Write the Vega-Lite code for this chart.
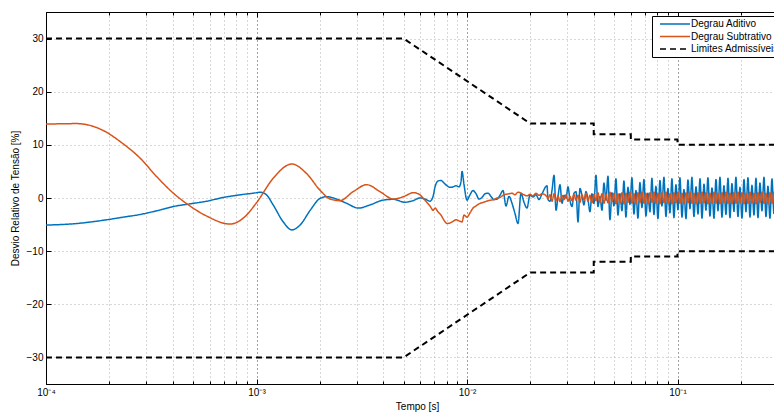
{
"$schema": "https://vega.github.io/schema/vega-lite/v6.json",
"width": 730, "height": 372,
"autosize": {"type": "none"},
"padding": {"left": 46, "top": 12, "right": 0, "bottom": 28},
"config": {
 "font": "Liberation Sans",
 "view": {"stroke": "black", "strokeWidth": 1},
 "axis": {"domainColor": "black", "tickColor": "black", "labelColor": "black", "titleColor": "black", "labelFontSize": 10, "titleFontSize": 10, "titleFontWeight": "normal", "gridDash": [1, 3], "gridColor": "#aaa", "gridOpacity": 1},
 "legend": {"orient": "none", "legendX": 606, "legendY": 4, "fillColor": "white", "strokeColor": "black", "padding": 3, "symbolType": "M0,0H10", "symbolSize": 36, "symbolStrokeWidth": 1.6, "labelFontSize": 10, "labelColor": "black", "labelOffset": 26, "rowPadding": 2.5}
},
"datasets": {
 "aditivo": [
  {"s":"Degrau Aditivo","t":0.0001,"v":-5.1},{"s":"Degrau Aditivo","t":0.00014,"v":-4.8},{"s":"Degrau Aditivo","t":0.000194,"v":-4.1},{"s":"Degrau Aditivo","t":0.000233,"v":-3.6},{"s":"Degrau Aditivo","t":0.00028,"v":-3.1},{"s":"Degrau Aditivo","t":0.000336,"v":-2.4},{"s":"Degrau Aditivo","t":0.000403,"v":-1.6},{"s":"Degrau Aditivo","t":0.000483,"v":-1.1},{"s":"Degrau Aditivo","t":0.00058,"v":-0.6},{"s":"Degrau Aditivo","t":0.000695,"v":0.1},{"s":"Degrau Aditivo","t":0.000836,"v":0.6},{"s":"Degrau Aditivo","t":0.001,"v":1.0},{"s":"Degrau Aditivo","t":0.00104,"v":1.1},{"s":"Degrau Aditivo","t":0.001115,"v":0.6},{"s":"Degrau Aditivo","t":0.0012,"v":-1.3},{"s":"Degrau Aditivo","t":0.00134,"v":-4.5},{"s":"Degrau Aditivo","t":0.00147,"v":-6.0},{"s":"Degrau Aditivo","t":0.00161,"v":-5.1},{"s":"Degrau Aditivo","t":0.0018,"v":-2.3},{"s":"Degrau Aditivo","t":0.002,"v":-0.1},{"s":"Degrau Aditivo","t":0.002156,"v":0.25},{"s":"Degrau Aditivo","t":0.0024,"v":-0.2},{"s":"Degrau Aditivo","t":0.00268,"v":-1.0},{"s":"Degrau Aditivo","t":0.00305,"v":-1.9},{"s":"Degrau Aditivo","t":0.00346,"v":-1.3},{"s":"Degrau Aditivo","t":0.004,"v":-0.4},{"s":"Degrau Aditivo","t":0.00447,"v":-0.25},{"s":"Degrau Aditivo","t":0.00507,"v":-0.8},{"s":"Degrau Aditivo","t":0.00554,"v":-0.5},{"s":"Degrau Aditivo","t":0.00598,"v":0.0},{"s":"Degrau Aditivo","t":0.00632,"v":-0.2},{"s":"Degrau Aditivo","t":0.00667,"v":-0.6},{"s":"Degrau Aditivo","t":0.0069,"v":0.3},{"s":"Degrau Aditivo","t":0.00705,"v":2.1},{"s":"Degrau Aditivo","t":0.00728,"v":3.2},{"s":"Degrau Aditivo","t":0.00752,"v":3.3},{"s":"Degrau Aditivo","t":0.00778,"v":2.8},{"s":"Degrau Aditivo","t":0.00804,"v":2.3},{"s":"Degrau Aditivo","t":0.0083,"v":2.0},{"s":"Degrau Aditivo","t":0.00858,"v":2.1},{"s":"Degrau Aditivo","t":0.00887,"v":2.3},{"s":"Degrau Aditivo","t":0.00916,"v":2.1},{"s":"Degrau Aditivo","t":0.00936,"v":3.0},{"s":"Degrau Aditivo","t":0.00947,"v":5.0},{"s":"Degrau Aditivo","t":0.00968,"v":2.5},{"s":"Degrau Aditivo","t":0.01,"v":-0.4},{"s":"Degrau Aditivo","t":0.01033,"v":0.6},{"s":"Degrau Aditivo","t":0.01068,"v":1.4},{"s":"Degrau Aditivo","t":0.01104,"v":0.8},{"s":"Degrau Aditivo","t":0.0114,"v":-0.2},{"s":"Degrau Aditivo","t":0.01178,"v":0.1},{"s":"Degrau Aditivo","t":0.01218,"v":0.8},{"s":"Degrau Aditivo","t":0.01258,"v":0.9},{"s":"Degrau Aditivo","t":0.013,"v":0.3},{"s":"Degrau Aditivo","t":0.01343,"v":-0.3},{"s":"Degrau Aditivo","t":0.01388,"v":-0.2},{"s":"Degrau Aditivo","t":0.01434,"v":0.5},{"s":"Degrau Aditivo","t":0.01483,"v":1.4},{"s":"Degrau Aditivo","t":0.01532,"v":-1.5},{"s":"Degrau Aditivo","t":0.01583,"v":0.3},{"s":"Degrau Aditivo","t":0.01636,"v":-1.0},{"s":"Degrau Aditivo","t":0.0169,"v":-2.9},{"s":"Degrau Aditivo","t":0.01747,"v":-4.8},{"s":"Degrau Aditivo","t":0.01805,"v":0.9},{"s":"Degrau Aditivo","t":0.01865,"v":-0.8},{"s":"Degrau Aditivo","t":0.01928,"v":-1.9},{"s":"Degrau Aditivo","t":0.01992,"v":0.6},{"s":"Degrau Aditivo","t":0.02058,"v":0.2},{"s":"Degrau Aditivo","t":0.02127,"v":0.6},{"s":"Degrau Aditivo","t":0.02198,"v":-0.3},{"s":"Degrau Aditivo","t":0.02272,"v":0.8},{"s":"Degrau Aditivo","t":0.02399,"v":2.3},
  {"s":"Degrau Aditivo","t":0.02426,"v":-0.3},{"s":"Degrau Aditivo","t":0.0248,"v":-0.6},{"s":"Degrau Aditivo","t":0.02535,"v":1.5},{"s":"Degrau Aditivo","t":0.02591,"v":4.3},{"s":"Degrau Aditivo","t":0.02648,"v":-2.3},{"s":"Degrau Aditivo","t":0.02706,"v":0.3},{"s":"Degrau Aditivo","t":0.02766,"v":2.5},{"s":"Degrau Aditivo","t":0.02827,"v":-1.0},{"s":"Degrau Aditivo","t":0.0289,"v":0.5},{"s":"Degrau Aditivo","t":0.02954,"v":0.0},{"s":"Degrau Aditivo","t":0.03019,"v":2.1},{"s":"Degrau Aditivo","t":0.03085,"v":-0.5},{"s":"Degrau Aditivo","t":0.03153,"v":-1.6},{"s":"Degrau Aditivo","t":0.03223,"v":0.9},{"s":"Degrau Aditivo","t":0.03294,"v":1.2},{"s":"Degrau Aditivo","t":0.03367,"v":-4.5},{"s":"Degrau Aditivo","t":0.03441,"v":1.8},{"s":"Degrau Aditivo","t":0.03517,"v":0.5},{"s":"Degrau Aditivo","t":0.03595,"v":-1.3},{"s":"Degrau Aditivo","t":0.03674,"v":1.2},{"s":"Degrau Aditivo","t":0.03755,"v":-0.2},{"s":"Degrau Aditivo","t":0.03838,"v":-2.6},{"s":"Degrau Aditivo","t":0.03923,"v":0.8},{"s":"Degrau Aditivo","t":0.0401,"v":-1.0},{"s":"Degrau Aditivo","t":0.04098,"v":4.3},{"s":"Degrau Aditivo","t":0.04189,"v":-1.6},{"s":"Degrau Aditivo","t":0.04281,"v":0.3},{"s":"Degrau Aditivo","t":0.04376,"v":-2.3},{"s":"Degrau Aditivo","t":0.04473,"v":2.8},{"s":"Degrau Aditivo","t":0.04572,"v":-0.4},{"s":"Degrau Aditivo","t":0.04673,"v":4.1},{"s":"Degrau Aditivo","t":0.04776,"v":-4.1},{"s":"Degrau Aditivo","t":0.04882,"v":1.0},{"s":"Degrau Aditivo","t":0.0499,"v":-1.5},{"s":"Degrau Aditivo","t":0.051,"v":3.6},{"s":"Degrau Aditivo","t":0.05213,"v":-3.2},{"s":"Degrau Aditivo","t":0.05328,"v":0.8},{"s":"Degrau Aditivo","t":0.05446,"v":-2.4},{"s":"Degrau Aditivo","t":0.05566,"v":3.2},{"s":"Degrau Aditivo","t":0.05689,"v":-3.6},{"s":"Degrau Aditivo","t":0.05815,"v":2.0},{"s":"Degrau Aditivo","t":0.05943,"v":-1.2},{"s":"Degrau Aditivo","t":0.06075,"v":3.8},{"s":"Degrau Aditivo","t":0.06209,"v":-3.0},{"s":"Degrau Aditivo","t":0.06346,"v":1.4},{"s":"Degrau Aditivo","t":0.06487,"v":-3.8},{"s":"Degrau Aditivo","t":0.0663,"v":2.9},{"s":"Degrau Aditivo","t":0.06777,"v":-1.8},{"s":"Degrau Aditivo","t":0.06927,"v":3.5},{"s":"Degrau Aditivo","t":0.0708,"v":-3.4},{"s":"Degrau Aditivo","t":0.07237,"v":0.9},{"s":"Degrau Aditivo","t":0.07397,"v":-2.6},{"s":"Degrau Aditivo","t":0.0756,"v":3.7},{"s":"Degrau Aditivo","t":0.07727,"v":-3.1},{"s":"Degrau Aditivo","t":0.07898,"v":2.2},{"s":"Degrau Aditivo","t":0.08073,"v":-3.9},{"s":"Degrau Aditivo","t":0.08252,"v":3.3},{"s":"Degrau Aditivo","t":0.08434,"v":-1.5},{"s":"Degrau Aditivo","t":0.08621,"v":3.9},{"s":"Degrau Aditivo","t":0.08812,"v":-3.5},{"s":"Degrau Aditivo","t":0.09006,"v":1.8},{"s":"Degrau Aditivo","t":0.09206,"v":-2.8},{"s":"Degrau Aditivo","t":0.09409,"v":3.6},{"s":"Degrau Aditivo","t":0.09617,"v":-3.7},{"s":"Degrau Aditivo","t":0.0983,"v":2.5},{"s":"Degrau Aditivo","t":0.1005,"v":-2.2},{"s":"Degrau Aditivo","t":0.1027,"v":3.8},{"s":"Degrau Aditivo","t":0.105,"v":-3.6},{"s":"Degrau Aditivo","t":0.1073,"v":1.6},{"s":"Degrau Aditivo","t":0.1097,"v":-3.9},{"s":"Degrau Aditivo","t":0.1121,"v":3.4},{"s":"Degrau Aditivo","t":0.1146,"v":-2.0},{"s":"Degrau Aditivo","t":0.1171,"v":3.9},{"s":"Degrau Aditivo","t":0.1197,"v":-3.5},{"s":"Degrau Aditivo","t":0.1224,"v":2.1},{"s":"Degrau Aditivo","t":0.1251,"v":-3.0},{"s":"Degrau Aditivo","t":0.1279,"v":3.6},{"s":"Degrau Aditivo","t":0.1307,"v":-3.8},{"s":"Degrau Aditivo","t":0.1336,"v":2.6},{"s":"Degrau Aditivo","t":0.1365,"v":-2.3},{"s":"Degrau Aditivo","t":0.1395,"v":3.8},{"s":"Degrau Aditivo","t":0.1426,"v":-3.4},{"s":"Degrau Aditivo","t":0.1458,"v":1.9},{"s":"Degrau Aditivo","t":0.149,"v":-3.8},{"s":"Degrau Aditivo","t":0.1523,"v":3.5},{"s":"Degrau Aditivo","t":0.1557,"v":-2.4},{"s":"Degrau Aditivo","t":0.1591,"v":3.9},{"s":"Degrau Aditivo","t":0.1626,"v":-3.6},{"s":"Degrau Aditivo","t":0.1662,"v":2.3},{"s":"Degrau Aditivo","t":0.1699,"v":-3.1},{"s":"Degrau Aditivo","t":0.1737,"v":3.7},{"s":"Degrau Aditivo","t":0.1775,"v":-3.7},{"s":"Degrau Aditivo","t":0.1814,"v":2.7},{"s":"Degrau Aditivo","t":0.1854,"v":-2.5},{"s":"Degrau Aditivo","t":0.1895,"v":3.9},{"s":"Degrau Aditivo","t":0.1937,"v":-3.5},{"s":"Degrau Aditivo","t":0.198,"v":2.0},{"s":"Degrau Aditivo","t":0.2024,"v":-3.8},{"s":"Degrau Aditivo","t":0.2069,"v":3.5},{"s":"Degrau Aditivo","t":0.2115,"v":-2.6},{"s":"Degrau Aditivo","t":0.2161,"v":3.8},{"s":"Degrau Aditivo","t":0.2209,"v":-3.6},{"s":"Degrau Aditivo","t":0.2258,"v":2.4},{"s":"Degrau Aditivo","t":0.2308,"v":-3.2},{"s":"Degrau Aditivo","t":0.2359,"v":3.7},{"s":"Degrau Aditivo","t":0.2411,"v":-3.7},{"s":"Degrau Aditivo","t":0.2464,"v":2.8},{"s":"Degrau Aditivo","t":0.2519,"v":-2.4},{"s":"Degrau Aditivo","t":0.2575,"v":3.9},{"s":"Degrau Aditivo","t":0.2632,"v":-3.5},{"s":"Degrau Aditivo","t":0.269,"v":2.2},{"s":"Degrau Aditivo","t":0.2749,"v":-3.8},{"s":"Degrau Aditivo","t":0.281,"v":3.6},{"s":"Degrau Aditivo","t":0.2872,"v":-2.9},{"s":"Degrau Aditivo","t":0.2937,"v":2.5}
 ],
 "subtrativo": [
  {"s":"Degrau Subtrativo","t":0.0001,"v":13.9},{"s":"Degrau Subtrativo","t":0.00014,"v":14.0},{"s":"Degrau Subtrativo","t":0.000187,"v":12.7},{"s":"Degrau Subtrativo","t":0.000229,"v":10.4},{"s":"Degrau Subtrativo","t":0.00028,"v":7.5},{"s":"Degrau Subtrativo","t":0.000336,"v":4.0},{"s":"Degrau Subtrativo","t":0.000403,"v":0.9},{"s":"Degrau Subtrativo","t":0.000483,"v":-1.5},{"s":"Degrau Subtrativo","t":0.00058,"v":-3.4},{"s":"Degrau Subtrativo","t":0.000748,"v":-4.9},{"s":"Degrau Subtrativo","t":0.000865,"v":-3.8},{"s":"Degrau Subtrativo","t":0.001,"v":-0.9},{"s":"Degrau Subtrativo","t":0.0012,"v":3.7},{"s":"Degrau Subtrativo","t":0.00147,"v":6.4},{"s":"Degrau Subtrativo","t":0.00173,"v":4.6},{"s":"Degrau Subtrativo","t":0.002,"v":1.5},{"s":"Degrau Subtrativo","t":0.00224,"v":-0.2},{"s":"Degrau Subtrativo","t":0.00249,"v":-0.5},{"s":"Degrau Subtrativo","t":0.00288,"v":1.2},{"s":"Degrau Subtrativo","t":0.00334,"v":2.5},{"s":"Degrau Subtrativo","t":0.00386,"v":1.2},{"s":"Degrau Subtrativo","t":0.00447,"v":-0.2},{"s":"Degrau Subtrativo","t":0.00499,"v":0.25},{"s":"Degrau Subtrativo","t":0.00557,"v":1.0},{"s":"Degrau Subtrativo","t":0.00598,"v":0.6},{"s":"Degrau Subtrativo","t":0.00621,"v":-0.1},{"s":"Degrau Subtrativo","t":0.00667,"v":-1.5},{"s":"Degrau Subtrativo","t":0.0069,"v":-2.3},{"s":"Degrau Subtrativo","t":0.00705,"v":-1.9},{"s":"Degrau Subtrativo","t":0.00728,"v":-2.6},{"s":"Degrau Subtrativo","t":0.00752,"v":-3.2},{"s":"Degrau Subtrativo","t":0.00778,"v":-4.2},{"s":"Degrau Subtrativo","t":0.00804,"v":-4.8},{"s":"Degrau Subtrativo","t":0.0083,"v":-4.7},{"s":"Degrau Subtrativo","t":0.00858,"v":-4.4},{"s":"Degrau Subtrativo","t":0.00887,"v":-4.1},{"s":"Degrau Subtrativo","t":0.00916,"v":-4.3},{"s":"Degrau Subtrativo","t":0.00947,"v":-4.5},{"s":"Degrau Subtrativo","t":0.00968,"v":-3.2},{"s":"Degrau Subtrativo","t":0.01,"v":-3.6},{"s":"Degrau Subtrativo","t":0.01033,"v":-2.8},{"s":"Degrau Subtrativo","t":0.01068,"v":-1.9},{"s":"Degrau Subtrativo","t":0.01104,"v":-1.5},{"s":"Degrau Subtrativo","t":0.0114,"v":-1.1},{"s":"Degrau Subtrativo","t":0.01178,"v":-0.9},{"s":"Degrau Subtrativo","t":0.01218,"v":-0.7},{"s":"Degrau Subtrativo","t":0.01258,"v":-0.5},{"s":"Degrau Subtrativo","t":0.013,"v":-0.4},{"s":"Degrau Subtrativo","t":0.01343,"v":-0.3},{"s":"Degrau Subtrativo","t":0.01388,"v":0.0},{"s":"Degrau Subtrativo","t":0.01434,"v":0.1},{"s":"Degrau Subtrativo","t":0.01483,"v":0.5},{"s":"Degrau Subtrativo","t":0.01532,"v":0.7},{"s":"Degrau Subtrativo","t":0.01583,"v":0.8},{"s":"Degrau Subtrativo","t":0.01636,"v":0.9},{"s":"Degrau Subtrativo","t":0.0169,"v":0.6},{"s":"Degrau Subtrativo","t":0.01747,"v":1.1},{"s":"Degrau Subtrativo","t":0.01805,"v":0.9},{"s":"Degrau Subtrativo","t":0.01865,"v":0.6},{"s":"Degrau Subtrativo","t":0.01928,"v":0.4},{"s":"Degrau Subtrativo","t":0.01992,"v":0.7},{"s":"Degrau Subtrativo","t":0.02058,"v":0.4},{"s":"Degrau Subtrativo","t":0.02127,"v":0.9},{"s":"Degrau Subtrativo","t":0.02198,"v":0.5},{"s":"Degrau Subtrativo","t":0.02272,"v":0.8},{"s":"Degrau Subtrativo","t":0.02399,"v":0.2},
  {"s":"Degrau Subtrativo","t":0.02426,"v":-0.1},{"s":"Degrau Subtrativo","t":0.0248,"v":0.6},{"s":"Degrau Subtrativo","t":0.02535,"v":-0.6},{"s":"Degrau Subtrativo","t":0.02591,"v":0.8},{"s":"Degrau Subtrativo","t":0.02648,"v":-0.5},{"s":"Degrau Subtrativo","t":0.02706,"v":0.4},{"s":"Degrau Subtrativo","t":0.02766,"v":-0.7},{"s":"Degrau Subtrativo","t":0.02827,"v":0.5},{"s":"Degrau Subtrativo","t":0.0289,"v":-0.3},{"s":"Degrau Subtrativo","t":0.02954,"v":0.6},{"s":"Degrau Subtrativo","t":0.03019,"v":-0.6},{"s":"Degrau Subtrativo","t":0.03085,"v":0.3},{"s":"Degrau Subtrativo","t":0.03153,"v":-0.5},{"s":"Degrau Subtrativo","t":0.03223,"v":0.7},{"s":"Degrau Subtrativo","t":0.03294,"v":-0.4},{"s":"Degrau Subtrativo","t":0.03367,"v":0.5},{"s":"Degrau Subtrativo","t":0.03441,"v":-0.8},{"s":"Degrau Subtrativo","t":0.03517,"v":0.6},{"s":"Degrau Subtrativo","t":0.03595,"v":-0.4},{"s":"Degrau Subtrativo","t":0.03674,"v":0.9},{"s":"Degrau Subtrativo","t":0.03755,"v":-0.6},{"s":"Degrau Subtrativo","t":0.03838,"v":0.5},{"s":"Degrau Subtrativo","t":0.03923,"v":-0.9},{"s":"Degrau Subtrativo","t":0.0401,"v":0.7},{"s":"Degrau Subtrativo","t":0.04098,"v":-0.5},{"s":"Degrau Subtrativo","t":0.04189,"v":1.0},{"s":"Degrau Subtrativo","t":0.04281,"v":-0.8},{"s":"Degrau Subtrativo","t":0.04376,"v":0.8},{"s":"Degrau Subtrativo","t":0.04473,"v":-1.0},{"s":"Degrau Subtrativo","t":0.04572,"v":0.7},{"s":"Degrau Subtrativo","t":0.04673,"v":-0.9},{"s":"Degrau Subtrativo","t":0.04776,"v":1.1},{"s":"Degrau Subtrativo","t":0.04882,"v":-0.7},{"s":"Degrau Subtrativo","t":0.0499,"v":0.9},{"s":"Degrau Subtrativo","t":0.051,"v":-1.1},{"s":"Degrau Subtrativo","t":0.05213,"v":0.8},{"s":"Degrau Subtrativo","t":0.05328,"v":-0.9},{"s":"Degrau Subtrativo","t":0.05446,"v":1.0},{"s":"Degrau Subtrativo","t":0.05566,"v":-1.1},{"s":"Degrau Subtrativo","t":0.05689,"v":0.9},{"s":"Degrau Subtrativo","t":0.05815,"v":-0.8},{"s":"Degrau Subtrativo","t":0.05943,"v":1.1},{"s":"Degrau Subtrativo","t":0.06075,"v":-1.0},{"s":"Degrau Subtrativo","t":0.06209,"v":0.8},{"s":"Degrau Subtrativo","t":0.06346,"v":-1.1},{"s":"Degrau Subtrativo","t":0.06487,"v":1.0},{"s":"Degrau Subtrativo","t":0.0663,"v":-0.9},{"s":"Degrau Subtrativo","t":0.06777,"v":1.1},{"s":"Degrau Subtrativo","t":0.06927,"v":-1.0},{"s":"Degrau Subtrativo","t":0.0708,"v":0.9},{"s":"Degrau Subtrativo","t":0.07237,"v":-1.1},{"s":"Degrau Subtrativo","t":0.07397,"v":1.0},{"s":"Degrau Subtrativo","t":0.0756,"v":-0.8},{"s":"Degrau Subtrativo","t":0.07727,"v":1.1},{"s":"Degrau Subtrativo","t":0.07898,"v":-1.0},{"s":"Degrau Subtrativo","t":0.08073,"v":0.9},{"s":"Degrau Subtrativo","t":0.08252,"v":-1.1},{"s":"Degrau Subtrativo","t":0.08434,"v":1.0},{"s":"Degrau Subtrativo","t":0.08621,"v":-0.9},{"s":"Degrau Subtrativo","t":0.08812,"v":1.1},{"s":"Degrau Subtrativo","t":0.09006,"v":-1.0},{"s":"Degrau Subtrativo","t":0.09206,"v":0.8},{"s":"Degrau Subtrativo","t":0.09409,"v":-1.1},{"s":"Degrau Subtrativo","t":0.09617,"v":1.0},{"s":"Degrau Subtrativo","t":0.0983,"v":-0.9},{"s":"Degrau Subtrativo","t":0.1005,"v":1.1},{"s":"Degrau Subtrativo","t":0.1027,"v":-1.0},{"s":"Degrau Subtrativo","t":0.105,"v":0.9},{"s":"Degrau Subtrativo","t":0.1073,"v":-1.1},{"s":"Degrau Subtrativo","t":0.1097,"v":1.0},{"s":"Degrau Subtrativo","t":0.1121,"v":-0.9},{"s":"Degrau Subtrativo","t":0.1146,"v":1.1},{"s":"Degrau Subtrativo","t":0.1171,"v":-1.0},{"s":"Degrau Subtrativo","t":0.1197,"v":0.9},{"s":"Degrau Subtrativo","t":0.1224,"v":-1.1},{"s":"Degrau Subtrativo","t":0.1251,"v":1.0},{"s":"Degrau Subtrativo","t":0.1279,"v":-1.0},{"s":"Degrau Subtrativo","t":0.1307,"v":1.1},{"s":"Degrau Subtrativo","t":0.1336,"v":-0.9},{"s":"Degrau Subtrativo","t":0.1365,"v":1.0},{"s":"Degrau Subtrativo","t":0.1395,"v":-1.1},{"s":"Degrau Subtrativo","t":0.1426,"v":0.9},{"s":"Degrau Subtrativo","t":0.1458,"v":-1.0},{"s":"Degrau Subtrativo","t":0.149,"v":1.1},{"s":"Degrau Subtrativo","t":0.1523,"v":-1.0},{"s":"Degrau Subtrativo","t":0.1557,"v":0.9},{"s":"Degrau Subtrativo","t":0.1591,"v":-1.1},{"s":"Degrau Subtrativo","t":0.1626,"v":1.0},{"s":"Degrau Subtrativo","t":0.1662,"v":-0.9},{"s":"Degrau Subtrativo","t":0.1699,"v":1.1},{"s":"Degrau Subtrativo","t":0.1737,"v":-1.0},{"s":"Degrau Subtrativo","t":0.1775,"v":0.9},{"s":"Degrau Subtrativo","t":0.1814,"v":-1.1},{"s":"Degrau Subtrativo","t":0.1854,"v":1.0},{"s":"Degrau Subtrativo","t":0.1895,"v":-1.0},{"s":"Degrau Subtrativo","t":0.1937,"v":1.1},{"s":"Degrau Subtrativo","t":0.198,"v":-0.9},{"s":"Degrau Subtrativo","t":0.2024,"v":1.0},{"s":"Degrau Subtrativo","t":0.2069,"v":-1.1},{"s":"Degrau Subtrativo","t":0.2115,"v":0.9},{"s":"Degrau Subtrativo","t":0.2161,"v":-1.0},{"s":"Degrau Subtrativo","t":0.2209,"v":1.1},{"s":"Degrau Subtrativo","t":0.2258,"v":-1.0},{"s":"Degrau Subtrativo","t":0.2308,"v":0.9},{"s":"Degrau Subtrativo","t":0.2359,"v":-1.1},{"s":"Degrau Subtrativo","t":0.2411,"v":1.0},{"s":"Degrau Subtrativo","t":0.2464,"v":-0.9},{"s":"Degrau Subtrativo","t":0.2519,"v":1.1},{"s":"Degrau Subtrativo","t":0.2575,"v":-1.0},{"s":"Degrau Subtrativo","t":0.2632,"v":0.9},{"s":"Degrau Subtrativo","t":0.269,"v":-1.1},{"s":"Degrau Subtrativo","t":0.2749,"v":1.0},{"s":"Degrau Subtrativo","t":0.281,"v":-1.0},{"s":"Degrau Subtrativo","t":0.2872,"v":1.1},{"s":"Degrau Subtrativo","t":0.2937,"v":-0.9}
 ],
 "limites": [
  {"s":"Limites Admissíveis","p":"sup","t":0.0001,"v":30},{"s":"Limites Admissíveis","p":"sup","t":0.005,"v":30},{"s":"Limites Admissíveis","p":"sup","t":0.02,"v":14},{"s":"Limites Admissíveis","p":"sup","t":0.04,"v":14},{"s":"Limites Admissíveis","p":"sup","t":0.04,"v":12},{"s":"Limites Admissíveis","p":"sup","t":0.06,"v":12},{"s":"Limites Admissíveis","p":"sup","t":0.06,"v":11},{"s":"Limites Admissíveis","p":"sup","t":0.1,"v":11},{"s":"Limites Admissíveis","p":"sup","t":0.1,"v":10},{"s":"Limites Admissíveis","p":"sup","t":0.2937,"v":10},
  {"s":"Limites Admissíveis","p":"inf","t":0.0001,"v":-30},{"s":"Limites Admissíveis","p":"inf","t":0.005,"v":-30},{"s":"Limites Admissíveis","p":"inf","t":0.02,"v":-14},{"s":"Limites Admissíveis","p":"inf","t":0.04,"v":-14},{"s":"Limites Admissíveis","p":"inf","t":0.04,"v":-12},{"s":"Limites Admissíveis","p":"inf","t":0.06,"v":-12},{"s":"Limites Admissíveis","p":"inf","t":0.06,"v":-11},{"s":"Limites Admissíveis","p":"inf","t":0.1,"v":-11},{"s":"Limites Admissíveis","p":"inf","t":0.1,"v":-10},{"s":"Limites Admissíveis","p":"inf","t":0.2937,"v":-10}
 ]
},
"layer": [
 {
  "data": {"name": "aditivo"},
  "mark": {"type": "line", "strokeWidth": 1.5, "clip": true, "interpolate": "monotone"},
  "encoding": {
   "x": {"field": "t", "type": "quantitative",
    "scale": {"type": "log", "domain": [0.0001, 0.2937], "nice": false},
    "axis": {"orient": "bottom", "values": [0.0001,0.0002,0.0003,0.0004,0.0005,0.0006,0.0007,0.0008,0.0009,0.001,0.002,0.003,0.004,0.005,0.006,0.007,0.008,0.009,0.01,0.02,0.03,0.04,0.05,0.06,0.07,0.08,0.09,0.1,0.2],
     "labelExpr": "datum.value < 0.00015 ? '10⁻⁴' : (datum.value > 0.00095 && datum.value < 0.0011) ? '10⁻³' : (datum.value > 0.0095 && datum.value < 0.011) ? '10⁻²' : (datum.value > 0.095 && datum.value < 0.11) ? '10⁻¹' : ''",
     "labelFlush": false, "labelOverlap": false,
     "title": "Tempo [s]", "titlePadding": 2, "titleX": 371,
     "grid": true,
     "gridColor": {"condition": {"test": "abs(log(datum.value)/LN10 - round(log(datum.value)/LN10)) < 0.001", "value": "#444"}, "value": "#b0b0b0"},
     "tickSize": {"condition": {"test": "abs(log(datum.value)/LN10 - round(log(datum.value)/LN10)) < 0.001", "value": -5}, "value": -3},
     "labelPadding": 8}},
   "y": {"field": "v", "type": "quantitative",
    "scale": {"domain": [-35, 35], "nice": false, "zero": false},
    "axis": {"values": [-30, -20, -10, 0, 10, 20, 30], "format": "d", "title": "Desvio Relativo de Tensão [%]", "grid": true, "gridColor": "#b0b0b0", "tickSize": -5, "labelPadding": 8, "titlePadding": 6}},
   "color": {"field": "s", "type": "nominal", "scale": {"domain": ["Degrau Aditivo", "Degrau Subtrativo", "Limites Admissíveis"], "range": ["#0072BD", "#D95319", "#000000"]}, "legend": {"title": null}},
   "strokeDash": {"field": "s", "type": "nominal", "scale": {"domain": ["Degrau Aditivo", "Degrau Subtrativo", "Limites Admissíveis"], "range": [[1, 0], [1, 0], [6, 4]]}, "legend": {"title": null}},
   "order": {"value": null}
  }
 },
 {
  "data": {"name": "subtrativo"},
  "mark": {"type": "line", "strokeWidth": 1.5, "clip": true, "interpolate": "monotone"},
  "encoding": {
   "x": {"field": "t", "type": "quantitative", "axis": null},
   "y": {"field": "v", "type": "quantitative"},
   "color": {"field": "s", "type": "nominal", "legend": {"title": null}},
   "strokeDash": {"field": "s", "type": "nominal", "legend": {"title": null}},
   "order": {"value": null}
  }
 },
 {
  "data": {"name": "limites"},
  "mark": {"type": "line", "strokeWidth": 2, "clip": true},
  "encoding": {
   "x": {"field": "t", "type": "quantitative",
    "axis": {"orient": "top", "values": [0.0001,0.0002,0.0003,0.0004,0.0005,0.0006,0.0007,0.0008,0.0009,0.001,0.002,0.003,0.004,0.005,0.006,0.007,0.008,0.009,0.01,0.02,0.03,0.04,0.05,0.06,0.07,0.08,0.09,0.1,0.2], "labels": false, "grid": false, "title": null,
     "tickSize": {"condition": {"test": "abs(log(datum.value)/LN10 - round(log(datum.value)/LN10)) < 0.001", "value": -5}, "value": -3}}},
   "y": {"field": "v", "type": "quantitative"},
   "color": {"field": "s", "type": "nominal", "legend": {"title": null}},
   "strokeDash": {"field": "s", "type": "nominal", "legend": {"title": null}},
   "detail": {"field": "p"},
   "order": {"value": null}
  }
 }
],
"resolve": {"axis": {"x": "independent"}}
}
